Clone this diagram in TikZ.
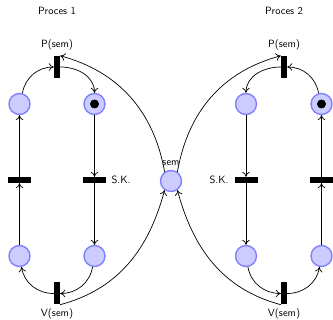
\documentclass[tikz,border=0pt]{standalone}
\usetikzlibrary{arrows.meta}
\definecolor{placefill}{RGB}{204,204,255}
\definecolor{placedraw}{RGB}{128,128,255}
\begin{document}
\begin{tikzpicture}[x=1pt,y=1pt,
  every node/.style={font=\sffamily\fontsize{10.5}{12}\selectfont},
  place/.style={circle,draw=placedraw,fill=placefill,line width=1.4pt,minimum size=21pt,inner sep=0pt},
  vtrans/.style={rectangle,fill=black,minimum width=6pt,minimum height=22pt,inner sep=0pt},
  htrans/.style={rectangle,fill=black,minimum width=23pt,minimum height=6pt,inner sep=0pt},
  tokendot/.style={circle,fill=black,minimum size=9pt,inner sep=0pt},
  lbl/.style={inner sep=1pt},
  arc/.style={-{To[length=5pt,width=7.5pt]},line width=0.7pt}]
\useasboundingbox (0,0) rectangle (333,320);
% Process 1
\node[place] (p1a) at (19.5,216) {};
\node[place] (p1b) at (94.5,216) {};
\node[tokendot] (k1) at (p1b) {};
\node[place] (p1c) at (19.5,64) {};
\node[place] (p1d) at (94.5,64) {};
\node[htrans] (t1a) at (19.5,140) {};
\node[htrans] (t1b) at (94.5,140) {};
\node[vtrans] (P1) at (57,253) {};
\node[vtrans] (V1) at (57,26.5) {};
% semaphore
\node[place] (sem) at (171,139) {};
% Process 2
\node[place] (p2a) at (246,216) {};
\node[place] (p2b) at (321.5,216) {};
\node[tokendot] (k2) at (p2b) {};
\node[place] (p2c) at (246,64) {};
\node[place] (p2d) at (321.5,64) {};
\node[htrans] (t2a) at (246,140) {};
\node[htrans] (t2b) at (321.5,140) {};
\node[vtrans] (P2) at (284,253) {};
\node[vtrans] (V2) at (284,26.5) {};
% labels
\node[lbl] (l1) at (57,309) {Proces 1};
\node[lbl] (l2) at (284,309) {Proces 2};
\node[lbl] (lp1) at (57,275) {P(sem)};
\node[lbl] (lp2) at (284,275) {P(sem)};
\node[lbl] (lv1) at (57,6) {V(sem)};
\node[lbl] (lv2) at (284,6) {V(sem)};
\node[lbl] (sk1) at (121,140) {S.K.};
\node[lbl] (sk2) at (219,140) {S.K.};
\node[lbl] (ls) at (171,157) {sem};
% arcs process 1
\draw[arc] (p1a.75) to[out=80,in=180] (P1.west);
\draw[arc] (P1.east) to[out=0,in=90] (p1b.north);
\draw[arc] (p1b) -- (t1b);
\draw[arc] (t1b) -- (p1d);
\draw[arc] (p1d.-100) to[out=-100,in=0] (V1.east);
\draw[arc] (V1.west) to[out=180,in=-80] (p1c.-80);
\draw[arc] (p1c) -- (t1a);
\draw[arc] (t1a) -- (p1a);
\draw[arc] (sem.125) to[out=100,in=-15] (P1.north east);
\draw[arc] (V1.south east) to[out=15,in=-105] (sem.-125);
% arcs process 2
\draw[arc] (p2b.105) to[out=100,in=0] (P2.east);
\draw[arc] (P2.west) to[out=180,in=90] (p2a.north);
\draw[arc] (p2a) -- (t2a);
\draw[arc] (t2a) -- (p2c);
\draw[arc] (p2c.-80) to[out=-80,in=180] (V2.west);
\draw[arc] (V2.east) to[out=0,in=-100] (p2d.-100);
\draw[arc] (p2d) -- (t2b);
\draw[arc] (t2b) -- (p2b);
\draw[arc] (sem.55) to[out=80,in=195] (P2.north west);
\draw[arc] (V2.south west) to[out=165,in=-75] (sem.-55);
\end{tikzpicture}
\end{document}
